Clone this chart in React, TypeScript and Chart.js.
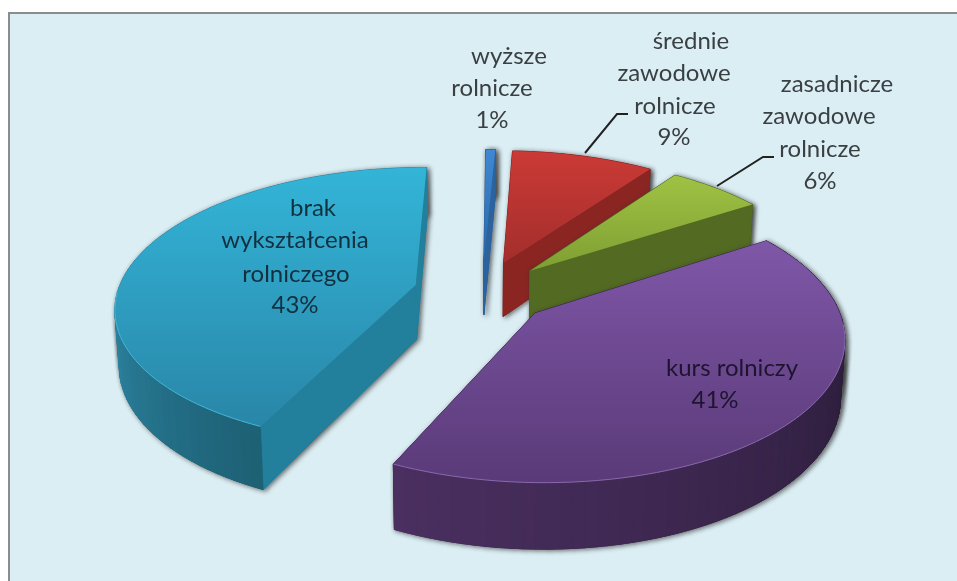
import React, { useEffect, useRef } from "react";
import { Chart, registerables } from "chart.js";

Chart.register(...registerables);

const categories = ["wyższe rolnicze", "średnie zawodowe rolnicze", "zasadnicze zawodowe rolnicze", "kurs rolniczy", "brak wykształcenia rolniczego"];
const shares = [0.6, 9, 6, 41, 43];

const labelLines = [
  ["wyższe", "rolnicze"],
  ["średnie", "zawodowe", "rolnicze"],
  ["zasadnicze", "zawodowe", "rolnicze"],
  ["kurs rolniczy"],
  ["brak", "wykształcenia", "rolniczego"],
];

// Layout and style tables (not data)
const labelPlacement = [
  [[509, 56], [492, 88], [492, 120]],
  [[691, 41], [674, 73], [675, 106], [674, 137]],
  [[837, 84], [819, 116], [820, 149], [820, 181]],
  [[732, 368], [715, 400]],
  [[313, 208], [295, 240], [296, 274], [295, 305]],
];
const leaders = [
  [[585, 153], [617, 114], [628, 114]],
  [[717, 186], [763, 157], [774, 157]],
];
const faceStops = [
  ["#3f88d2", "#2a68a8"],
  ["#cb3a36", "#a32e2c"],
  ["#9fc244", "#7f9f32"],
  ["#7f57a8", "#5a3a78"],
  ["#33b5d8", "#2986a8"],
];
const wallColors = ["#2b639f", "#8a2522", "#526a22", "#3a2650", "#23809c"];
const outerStops = [
  ["#2b639f", "#2b639f"],
  ["#8a2522", "#8a2522"],
  ["#526a22", "#526a22"],
  ["#2a1c38", "#4a2f60"],
  ["#1d6074", "#2f89a8"],
];
const edgeColors = ["#5a9ce0", "#d86060", "#b5d560", "#8a68ae", "#3fb8d8"];

const CAM = { explode: 0.23, aspect: 0.46, persp: 0.15, depth: 55, taper: 0.012 };

function mix(a: string, b: string, t: number) {
  const p = (h: string) => [1, 3, 5].map((i) => parseInt(h.slice(i, i + 2), 16));
  const ca = p(a), cb = p(b);
  return `rgb(${ca.map((v, i) => Math.round(v + (cb[i] - v) * t)).join(",")})`;
}

const pie3d = {
  id: "pie3d",
  beforeDraw(chart: any) {
    const { ctx, width, height } = chart;
    ctx.save();
    ctx.fillStyle = "#ffffff";
    ctx.fillRect(0, 0, width, height);
    ctx.fillStyle = "#8c8c8c";
    ctx.fillRect(8, 12, width, height);
    ctx.fillStyle = "#dbeef4";
    ctx.fillRect(10, 14, width, height);
    ctx.restore();
  },
  beforeDatasetDraw(chart: any) {
    const { ctx } = chart;
    const arcs = chart.getDatasetMeta(0).data;
    const items = arcs.map((arc: any, i: number) => {
      const p = arc.getProps(["x", "y", "startAngle", "endAngle", "outerRadius"], true);
      return { i, ...p, mid: (p.startAngle + p.endAngle) / 2 };
    });
    items.sort((a: any, b: any) => Math.sin(a.mid) - Math.sin(b.mid));

    for (const it of items) {
      const ox = Math.cos(it.mid) * CAM.explode;
      const oy = Math.sin(it.mid) * CAM.explode;
      const R = it.outerRadius;
      const proj = (wx: number, wy: number, z: number) => {
        const s = 1 / (1 - CAM.persp * wy);
        const t = 1 - z * CAM.taper;
        return [it.x + R * wx * s * t, it.y + R * wy * CAM.aspect * s + z * CAM.depth * s];
      };
      const rim = (a: number, z: number) => proj(ox + Math.cos(a), oy + Math.sin(a), z);
      const apex = (z: number) => proj(ox, oy, z);
      const steps = Math.max(6, Math.ceil(((it.endAngle - it.startAngle) * 180) / Math.PI / 2));
      const angle = (k: number) => it.startAngle + ((it.endAngle - it.startAngle) * k) / steps;

      const quads: { pts: number[][]; color: string }[] = [];
      const all: { pts: number[][]; color: string }[] = [];
      const area = (q: number[][]) =>
        q.reduce((acc, pt, n) => {
          const nx = q[(n + 1) % q.length];
          return acc + pt[0] * nx[1] - nx[0] * pt[1];
        }, 0);
      const pushIf = (pts: number[][], color: string) => {
        all.push({ pts, color });
        if (area(pts) > 0) quads.push({ pts, color });
      };
      pushIf([apex(0), apex(1), rim(it.startAngle, 1), rim(it.startAngle, 0)], wallColors[it.i]);
      pushIf([apex(0), rim(it.endAngle, 0), rim(it.endAngle, 1), apex(1)], wallColors[it.i]);
      const lo = Math.max(it.startAngle, 0);
      const hi = Math.min(it.endAngle, Math.PI);
      for (let k = 0; k < steps; k++) {
        const a0 = angle(k), a1 = angle(k + 1);
        const t = hi > lo ? Math.min(1, Math.max(0, ((a0 + a1) / 2 - lo) / (hi - lo))) : 0;
        pushIf([rim(a0, 0), rim(a0, 1), rim(a1, 1), rim(a1, 0)], mix(outerStops[it.i][0], outerStops[it.i][1], t));
      }
      const fillQuad = (q: { pts: number[][]; color: string }) => {
        ctx.beginPath();
        q.pts.forEach((pt, n) => (n ? ctx.lineTo(pt[0], pt[1]) : ctx.moveTo(pt[0], pt[1])));
        ctx.closePath();
        ctx.fillStyle = q.color;
        ctx.strokeStyle = q.color;
        ctx.lineWidth = 0.7;
        ctx.fill();
        ctx.stroke();
      };
      ctx.save();
      ctx.shadowColor = "rgba(50,50,50,0.75)";
      ctx.shadowBlur = 5;
      ctx.shadowOffsetX = 2;
      ctx.shadowOffsetY = 1;
      all.forEach(fillQuad);
      ctx.restore();
      all.forEach(fillQuad);
      quads.forEach(fillQuad);

      // top face
      const facePts = [apex(0)];
      for (let k = 0; k <= steps; k++) facePts.push(rim(angle(k), 0));
      const ys = facePts.map((pt) => pt[1]);
      const g = ctx.createLinearGradient(0, Math.min(...ys), 0, Math.max(...ys));
      g.addColorStop(0, faceStops[it.i][0]);
      g.addColorStop(1, faceStops[it.i][1]);
      ctx.beginPath();
      facePts.forEach((pt, n) => (n ? ctx.lineTo(pt[0], pt[1]) : ctx.moveTo(pt[0], pt[1])));
      ctx.closePath();
      ctx.fillStyle = g;
      ctx.fill();
      // rim highlight on the front edge
      ctx.beginPath();
      let started = false;
      for (let k = 0; k <= steps; k++) {
        const a = angle(k);
        if (Math.sin(a) < 0.05) continue;
        const pt = rim(a, 0);
        if (started) ctx.lineTo(pt[0], pt[1]);
        else { ctx.moveTo(pt[0], pt[1]); started = true; }
      }
      ctx.strokeStyle = edgeColors[it.i];
      ctx.lineWidth = 1;
      ctx.stroke();
    }
    return false;
  },
  afterDatasetsDraw(chart: any) {
    const { ctx } = chart;
    ctx.save();
    ctx.strokeStyle = "#222222";
    ctx.lineWidth = 2;
    leaders.forEach((l) => {
      ctx.beginPath();
      l.forEach((pt, n) => (n ? ctx.lineTo(pt[0], pt[1]) : ctx.moveTo(pt[0], pt[1])));
      ctx.stroke();
    });
    ctx.font = '24px "Lato"';
    ctx.textAlign = "center";
    ctx.textBaseline = "middle";
    labelLines.forEach((lines, i) => {
      const all = [...lines, `${Math.round(shares[i])}%`];
      ctx.fillStyle = i === 3 ? "#1e1430" : i === 4 ? "#12303f" : "#3a3f42";
      all.forEach((txt, n) => {
        const [x, y] = labelPlacement[i][n];
        ctx.fillText(txt, x, y);
      });
    });
    ctx.restore();
  },
};

export default function App() {
  const ref = useRef<HTMLCanvasElement>(null);
  useEffect(() => {
    document.body.style.margin = "0";
    const chart = new Chart(ref.current as HTMLCanvasElement, {
      type: "pie",
      data: {
        labels: categories,
        datasets: [{ data: shares, radius: 298, backgroundColor: faceStops.map((s) => s[0]), borderWidth: 0 } as any],
      },
      options: {
        responsive: false,
        animation: false,
        rotation: 0.5,
        layout: { padding: { left: 7, top: 3 } },
        plugins: { legend: { display: false }, tooltip: { enabled: false } },
      },
      plugins: [pie3d],
    } as any);
    return () => chart.destroy();
  }, []);
  return (
    <canvas
      ref={ref}
      width={957}
      height={581}
      style={{ display: "block", width: 957, height: 581, filter: "blur(0.6px)" }}
    />
  );
}
